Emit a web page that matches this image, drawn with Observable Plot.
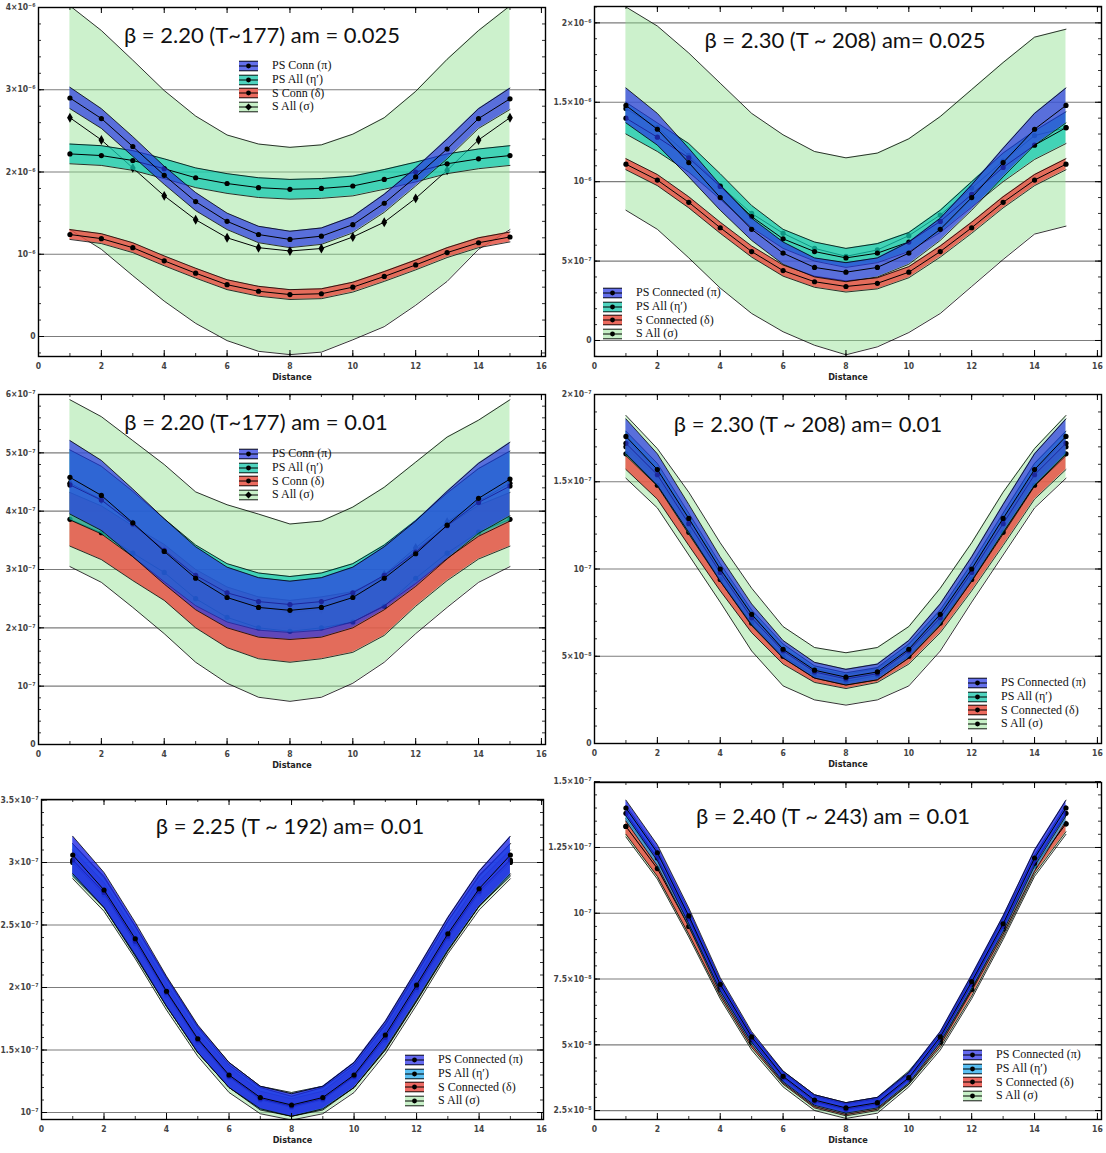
<!DOCTYPE html>
<html><head><meta charset="utf-8">
<script src="https://cdn.jsdelivr.net/npm/d3@7"></script>
<script src="https://cdn.jsdelivr.net/npm/@observablehq/plot@0.6"></script>
<style>
html,body{margin:0;padding:0;background:#fff;}
#root{position:relative;width:1106px;height:1153px;overflow:hidden;}
.panel{position:absolute;}
.title{position:absolute;transform:translateX(-50%);white-space:nowrap;font-family:Lato,"Open Sans",sans-serif;font-size:22px;color:#111;line-height:26px;}
.legend{position:absolute;font-family:"Liberation Serif",serif;font-size:12px;color:#111;}
.legend .row{display:flex;align-items:center;height:13.7px;}
.legend svg{margin-right:14px;flex:none;}
</style></head>
<body><div id="root"></div>
<script>
// ---------------- DATA ----------------
const distance = [1,2,3,4,5,6,7,8,9,10,11,12,13,14,15];
const labelsShort = ["PS Conn (π)","PS All (η′)","S Conn (δ)","S All (σ)"];
const labelsLong = ["PS Connected (π)","PS All (η′)","S Connected (δ)","S All (σ)"];
const panelTitles = [
  "β = 2.20 (T~177) am = 0.025",
  "β = 2.30 (T ~ 208) am= 0.025",
  "β = 2.20 (T~177) am = 0.01",
  "β = 2.30 (T ~ 208) am= 0.01",
  "β = 2.25 (T ~ 192) am= 0.01",
  "β = 2.40 (T ~ 243) am = 0.01"
];
const xTicks = [0,2,4,6,8,10,12,14,16];
const xTickLabels = ["0","2","4","6","8","10","12","14","16"];

// Panel 1 (units of 1e-6)
const p1Unit = 1e-6;
const p1Pi       = [2.90,2.65,2.31,1.96,1.64,1.40,1.24,1.18,1.22,1.36,1.62,1.94,2.28,2.65,2.89];
const p1PiErr    = [0.13,0.12,0.12,0.11,0.11,0.10,0.10,0.10,0.10,0.10,0.11,0.11,0.12,0.12,0.13];
const p1Eta      = [2.22,2.20,2.14,2.04,1.93,1.86,1.81,1.79,1.80,1.83,1.91,2.00,2.10,2.16,2.20];
const p1EtaErr   = [0.12,0.12,0.12,0.12,0.12,0.12,0.12,0.12,0.12,0.12,0.12,0.12,0.12,0.12,0.12];
const p1Delta    = [1.24,1.19,1.08,0.92,0.77,0.63,0.55,0.51,0.52,0.60,0.73,0.87,1.02,1.14,1.21];
const p1DeltaErr = [0.06,0.06,0.06,0.06,0.06,0.06,0.06,0.06,0.06,0.06,0.06,0.06,0.06,0.06,0.06];
const p1Sigma    = [2.66,2.39,2.05,1.71,1.42,1.20,1.08,1.04,1.07,1.21,1.39,1.68,2.02,2.39,2.66];
const p1SigmaErr = [1.36,1.33,1.31,1.28,1.26,1.25,1.26,1.26,1.26,1.25,1.27,1.30,1.35,1.33,1.36];
const p1YTicks = [0,1e-6,2e-6,3e-6,4e-6];
const p1YTickLabels = ["0","10⁻⁶","2×10⁻⁶","3×10⁻⁶","4×10⁻⁶"];

// Panel 2 (units of 1e-6)
const p2Unit = 1e-6;
const p2Pi       = [1.48,1.33,1.12,0.90,0.70,0.55,0.46,0.43,0.46,0.55,0.70,0.90,1.12,1.33,1.48];
const p2PiErr    = [0.11,0.10,0.09,0.08,0.07,0.07,0.06,0.06,0.06,0.07,0.07,0.08,0.09,0.10,0.11];
const p2Eta      = [1.40,1.28,1.15,0.97,0.78,0.64,0.56,0.52,0.55,0.62,0.75,0.92,1.09,1.23,1.34];
const p2EtaErr   = [0.10,0.09,0.09,0.08,0.07,0.06,0.06,0.06,0.06,0.06,0.07,0.08,0.09,0.09,0.10];
const p2Delta    = [1.11,1.01,0.87,0.71,0.56,0.44,0.37,0.34,0.36,0.43,0.56,0.71,0.87,1.01,1.11];
const p2DeltaErr = [0.035,0.035,0.035,0.035,0.035,0.035,0.035,0.035,0.035,0.035,0.035,0.035,0.035,0.035,0.035];
const p2Sigma    = [1.46,1.34,1.165,0.975,0.80,0.675,0.58,0.53,0.57,0.66,0.79,0.96,1.13,1.29,1.34];
const p2SigmaErr = [0.64,0.64,0.645,0.645,0.63,0.62,0.61,0.62,0.61,0.61,0.62,0.62,0.62,0.62,0.62];
const p2YTicks = [0,5e-7,1e-6,1.5e-6,2e-6];
const p2YTickLabels = ["0","5×10⁻⁷","10⁻⁶","1.5×10⁻⁶","2×10⁻⁶"];

// Panel 3 (units of 1e-7)
const p3Unit = 1e-7;
const p3Pi       = [4.58,4.27,3.80,3.31,2.85,2.52,2.35,2.30,2.35,2.52,2.85,3.27,3.76,4.22,4.55];
const p3PiErr    = [0.63,0.60,0.58,0.56,0.54,0.52,0.51,0.50,0.51,0.52,0.54,0.56,0.58,0.60,0.63];
const p3Eta      = [4.45,4.19,3.78,3.33,2.90,2.60,2.45,2.40,2.45,2.60,2.90,3.30,3.75,4.15,4.43];
const p3EtaErr   = [0.60,0.58,0.56,0.54,0.52,0.50,0.49,0.48,0.49,0.50,0.52,0.54,0.56,0.58,0.60];
const p3Delta    = [3.86,3.63,3.28,2.95,2.50,2.18,2.00,1.94,2.00,2.10,2.37,2.85,3.28,3.64,3.86];
const p3DeltaErr = [0.46,0.46,0.47,0.48,0.50,0.52,0.53,0.53,0.53,0.52,0.50,0.48,0.47,0.46,0.46];
const p3Sigma    = [4.48,4.20,3.78,3.35,2.87,2.58,2.38,2.26,2.32,2.56,2.91,3.37,3.81,4.17,4.48];
const p3SigmaErr = [1.43,1.42,1.43,1.45,1.46,1.53,1.57,1.52,1.51,1.51,1.50,1.47,1.46,1.39,1.43];
const p3YTicks = [0,1e-7,2e-7,3e-7,4e-7,5e-7,6e-7];
const p3YTickLabels = ["0","10⁻⁷","2×10⁻⁷","3×10⁻⁷","4×10⁻⁷","5×10⁻⁷","6×10⁻⁷"];

// Panel 4 (units of 1e-7)
const p4Unit = 1e-7;
const p4Pi       = [1.76,1.57,1.29,1.00,0.74,0.54,0.42,0.38,0.41,0.54,0.74,1.00,1.29,1.57,1.76];
const p4PiErr    = [0.10,0.09,0.08,0.07,0.06,0.05,0.045,0.045,0.045,0.05,0.06,0.07,0.08,0.09,0.10];
const p4Eta      = [1.72,1.54,1.26,0.98,0.72,0.53,0.41,0.37,0.40,0.53,0.72,0.98,1.26,1.54,1.72];
const p4EtaErr   = [0.07,0.065,0.06,0.05,0.045,0.04,0.035,0.035,0.035,0.04,0.045,0.05,0.06,0.065,0.07];
const p4Delta    = [1.66,1.48,1.21,0.94,0.69,0.50,0.39,0.355,0.39,0.50,0.69,0.94,1.21,1.48,1.66];
const p4DeltaErr = [0.09,0.08,0.075,0.065,0.055,0.045,0.04,0.04,0.04,0.045,0.055,0.065,0.075,0.08,0.09];
const p4Sigma    = [1.70,1.52,1.26,0.98,0.71,0.50,0.40,0.37,0.40,0.50,0.71,0.98,1.26,1.52,1.70];
const p4SigmaErr = [0.18,0.17,0.18,0.17,0.18,0.17,0.15,0.15,0.15,0.17,0.18,0.17,0.18,0.17,0.18];
const p4YTicks = [0,5e-8,1e-7,1.5e-7,2e-7];
const p4YTickLabels = ["0","5×10⁻⁸","10⁻⁷","1.5×10⁻⁷","2×10⁻⁷"];

// Panel 5 (units of 1e-7)
const p5Unit = 1e-7;
const p5Pi       = [3.06,2.78,2.39,1.97,1.59,1.30,1.12,1.06,1.12,1.30,1.62,2.02,2.43,2.79,3.06];
const p5PiErr    = [0.15,0.14,0.13,0.12,0.11,0.10,0.09,0.09,0.09,0.10,0.11,0.12,0.13,0.14,0.15];
const p5Eta      = [3.02,2.76,2.37,1.96,1.58,1.29,1.11,1.05,1.11,1.29,1.60,2.00,2.41,2.77,3.02];
const p5EtaErr   = [0.13,0.12,0.12,0.11,0.10,0.09,0.09,0.08,0.09,0.09,0.10,0.11,0.12,0.12,0.13];
const p5Delta    = [3.00,2.74,2.35,1.94,1.56,1.28,1.10,1.04,1.10,1.28,1.58,1.98,2.39,2.75,3.00];
const p5DeltaErr = [0.10,0.10,0.09,0.09,0.08,0.08,0.07,0.07,0.07,0.08,0.08,0.09,0.09,0.10,0.10];
const p5Sigma    = [3.01,2.75,2.36,1.95,1.57,1.28,1.10,1.05,1.10,1.28,1.59,1.99,2.40,2.76,3.01];
const p5SigmaErr = [0.14,0.14,0.13,0.13,0.12,0.12,0.11,0.11,0.11,0.12,0.12,0.13,0.13,0.14,0.14];
const p5YTicks = [1e-7,1.5e-7,2e-7,2.5e-7,3e-7,3.5e-7];
const p5YTickLabels = ["10⁻⁷","1.5×10⁻⁷","2×10⁻⁷","2.5×10⁻⁷","3×10⁻⁷","3.5×10⁻⁷"];

// Panel 6 (units of 1e-7)
const p6Unit = 1e-7;
const p6Pi       = [1.40,1.23,0.99,0.73,0.53,0.38,0.29,0.26,0.28,0.375,0.53,0.74,0.96,1.21,1.40];
const p6PiErr    = [0.03,0.03,0.03,0.025,0.02,0.02,0.02,0.02,0.02,0.02,0.02,0.025,0.03,0.03,0.03];
const p6Eta      = [1.38,1.21,0.98,0.72,0.52,0.375,0.285,0.255,0.275,0.37,0.52,0.73,0.95,1.19,1.38];
const p6EtaErr   = [0.03,0.03,0.03,0.025,0.02,0.02,0.02,0.02,0.02,0.02,0.02,0.025,0.03,0.03,0.03];
const p6Delta    = [1.33,1.17,0.95,0.71,0.51,0.37,0.28,0.25,0.27,0.37,0.51,0.71,0.94,1.18,1.34];
const p6DeltaErr = [0.03,0.03,0.03,0.025,0.02,0.02,0.02,0.02,0.02,0.02,0.02,0.025,0.03,0.03,0.03];
const p6Sigma    = [1.33,1.17,0.95,0.71,0.51,0.37,0.28,0.25,0.27,0.37,0.51,0.71,0.94,1.18,1.34];
const p6SigmaErr = [0.04,0.04,0.04,0.035,0.03,0.03,0.03,0.03,0.03,0.03,0.03,0.035,0.04,0.04,0.04];
const p6YTicks = [2.5e-8,5e-8,7.5e-8,1e-7,1.25e-7,1.5e-7];
const p6YTickLabels = ["2.5×10⁻⁸","5×10⁻⁸","7.5×10⁻⁸","10⁻⁷","1.25×10⁻⁷","1.5×10⁻⁷"];

// ---------------- STYLE / LAYOUT ----------------
const colorsA = {
  fill: {pi:"#2837e1", eta:"#14c8af", delta:"#e65546", sigma:"#8ee08e"},
  op:   {pi:0.7, eta:0.75, delta:0.85, sigma:0.45},
  swatch: {pi:"#6470eb", eta:"#4fd4bf", delta:"#ec6b5f", sigma:"#c8f0c8"}
};
const colorsB = {
  fill: {pi:"#1e28e6", eta:"#28aaf0", delta:"#e65546", sigma:"#8ee08e"},
  op:   {pi:0.8, eta:0.75, delta:0.85, sigma:0.45},
  swatch: {pi:"#6469f0", eta:"#5ac0f3", delta:"#ee6a63", sigma:"#c8f0c8"}
};

function series(c, e, unit) {
  return distance.map((x, i) => ({x, y: c[i]*unit, lo: (c[i]-e[i])*unit, hi: (c[i]+e[i])*unit}));
}

const panels = [
  {left:0, top:0, W:553, H:390, ml:38, mr:8, mt:7, mb:34, xmax:16.13, ydom:[-0.243e-6,4e-6],
   ticks:p1YTicks, tickLabels:p1YTickLabels, minor:0.2e-6,
   data:{pi:series(p1Pi,p1PiErr,p1Unit), eta:series(p1Eta,p1EtaErr,p1Unit), delta:series(p1Delta,p1DeltaErr,p1Unit), sigma:series(p1Sigma,p1SigmaErr,p1Unit)},
   colors:colorsA, sigmaSymbol:"diamond", title:panelTitles[0], tx:262, ty:22, labels:labelsShort, lx:239, ly:59},
  {left:553, top:0, W:553, H:390, ml:41, mr:5, mt:6, mb:34, xmax:16.13, ydom:[-0.1008e-6,2.103e-6],
   ticks:p2YTicks, tickLabels:p2YTickLabels, minor:0.1e-6,
   data:{pi:series(p2Pi,p2PiErr,p2Unit), eta:series(p2Eta,p2EtaErr,p2Unit), delta:series(p2Delta,p2DeltaErr,p2Unit), sigma:series(p2Sigma,p2SigmaErr,p2Unit)},
   colors:colorsA, sigmaSymbol:"circle", title:panelTitles[1], tx:845, ty:27, labels:labelsLong, lx:603, ly:286},
  {left:0, top:385, W:553, H:400, ml:38, mr:8, mt:9, mb:41, xmax:16.13, ydom:[0,6e-7],
   ticks:p3YTicks, tickLabels:p3YTickLabels, minor:0.2e-7,
   data:{pi:series(p3Pi,p3PiErr,p3Unit), eta:series(p3Eta,p3EtaErr,p3Unit), delta:series(p3Delta,p3DeltaErr,p3Unit), sigma:series(p3Sigma,p3SigmaErr,p3Unit)},
   colors:colorsA, sigmaSymbol:"diamond", title:panelTitles[2], tx:256, ty:409, labels:labelsShort, lx:239, ly:447},
  {left:553, top:385, W:553, H:400, ml:41, mr:5, mt:9, mb:42, xmax:16.13, ydom:[0,2e-7],
   ticks:p4YTicks, tickLabels:p4YTickLabels, minor:0.1e-7,
   data:{pi:series(p4Pi,p4PiErr,p4Unit), eta:series(p4Eta,p4EtaErr,p4Unit), delta:series(p4Delta,p4DeltaErr,p4Unit), sigma:series(p4Sigma,p4SigmaErr,p4Unit)},
   colors:colorsA, sigmaSymbol:"circle", title:panelTitles[3], tx:808, ty:411, labels:labelsLong, lx:968, ly:676},
  {left:0, top:775, W:553, H:378, ml:41, mr:10, mt:24, mb:34, xmax:16.06, ydom:[0.944e-7,3.504e-7],
   ticks:p5YTicks, tickLabels:p5YTickLabels, minor:0.1e-7,
   data:{pi:series(p5Pi,p5PiErr,p5Unit), eta:series(p5Eta,p5EtaErr,p5Unit), delta:series(p5Delta,p5DeltaErr,p5Unit), sigma:series(p5Sigma,p5SigmaErr,p5Unit)},
   colors:colorsB, sigmaSymbol:"circle", title:panelTitles[4], tx:290, ty:813, labels:labelsLong, lx:405, ly:1053},
  {left:553, top:775, W:553, H:378, ml:41, mr:5, mt:7, mb:34, xmax:16.13, ydom:[0.216e-7,1.497e-7],
   ticks:p6YTicks, tickLabels:p6YTickLabels, minor:0.05e-7,
   data:{pi:series(p6Pi,p6PiErr,p6Unit), eta:series(p6Eta,p6EtaErr,p6Unit), delta:series(p6Delta,p6DeltaErr,p6Unit), sigma:series(p6Sigma,p6SigmaErr,p6Unit)},
   colors:colorsB, sigmaSymbol:"circle", title:panelTitles[5], tx:833, ty:803, labels:labelsLong, lx:963, ly:1048}
];

const order = ["sigma","delta","eta","pi"];
const legendOrder = ["pi","eta","delta","sigma"];
const root = document.getElementById("root");

for (const p of panels) {
  const fw = p.W - p.ml - p.mr, fh = p.H - p.mt - p.mb;
  const [y0, y1] = p.ydom;
  const minorY = d3.range(Math.ceil(y0/p.minor - 1e-9), Math.floor(y1/p.minor + 1e-9) + 1).map(k => k*p.minor);
  const minorX = d3.range(0, 17, 1);
  const marks = [];
  marks.push(Plot.ruleY(p.ticks, {stroke:"#7c7c7c", strokeWidth:1.2}));
  for (const k of order) {
    marks.push(Plot.areaY(p.data[k], {x:"x", y1:"lo", y2:"hi", fill:p.colors.fill[k], fillOpacity:p.colors.op[k], clip:true}));
    marks.push(Plot.lineY(p.data[k], {x:"x", y:"lo", stroke:"#000", strokeWidth:0.8, clip:true}));
    marks.push(Plot.lineY(p.data[k], {x:"x", y:"hi", stroke:"#000", strokeWidth:0.8, clip:true}));
    marks.push(Plot.lineY(p.data[k], {x:"x", y:"y", stroke:"#000", strokeWidth:1, clip:true}));
    const dia = k==="sigma" && p.sigmaSymbol==="diamond";
    marks.push(Plot.dot(p.data[k], {x:"x", y:"y", r: dia ? 3.0 : 2.6, symbol: dia ? "diamond" : "circle", fill:"#000", clip:true}));
  }
  // inward frame ticks
  marks.push(Plot.ruleY(minorY, {insetRight: fw-3, stroke:"#000", strokeWidth:0.8}));
  marks.push(Plot.ruleY(minorY, {insetLeft: fw-3, stroke:"#000", strokeWidth:0.8}));
  marks.push(Plot.ruleY(p.ticks, {insetRight: fw-6, stroke:"#000", strokeWidth:1}));
  marks.push(Plot.ruleY(p.ticks, {insetLeft: fw-6, stroke:"#000", strokeWidth:1}));
  marks.push(Plot.ruleX(minorX, {insetTop: fh-3, stroke:"#000", strokeWidth:0.8}));
  marks.push(Plot.ruleX(minorX, {insetBottom: fh-3, stroke:"#000", strokeWidth:0.8}));
  marks.push(Plot.ruleX(xTicks, {insetTop: fh-6, stroke:"#000", strokeWidth:1}));
  marks.push(Plot.ruleX(xTicks, {insetBottom: fh-6, stroke:"#000", strokeWidth:1}));
  marks.push(Plot.frame({stroke:"#000", strokeWidth:1.4}));
  marks.push(Plot.axisY(p.ticks, {tickSize:0, tickPadding:3, label:null, fontSize:8.5, tickFormat: d => p.tickLabels[p.ticks.indexOf(d)]}));
  marks.push(Plot.axisX(xTicks, {tickSize:0, tickPadding:6, label:null, fontSize:8.5, tickFormat: d => xTickLabels[xTicks.indexOf(d)]}));
  marks.push(Plot.text(["Distance"], {frameAnchor:"bottom", dy:23, fontSize:9, fill:"#222"}));

  const svg = Plot.plot({
    width:p.W, height:p.H, marginLeft:p.ml, marginRight:p.mr, marginTop:p.mt, marginBottom:p.mb,
    x:{domain:[0,p.xmax]}, y:{domain:p.ydom},
    style:{background:"transparent", fontFamily:"'DejaVu Sans Condensed','DejaVu Sans',sans-serif", fontWeight:"bold", color:"#444", overflow:"visible"},
    marks
  });
  const wrap = document.createElement("div");
  wrap.className = "panel";
  wrap.style.left = p.left + "px"; wrap.style.top = p.top + "px";
  wrap.appendChild(svg);
  root.appendChild(wrap);

  const t = document.createElement("div");
  t.className = "title"; t.textContent = p.title;
  t.style.left = p.tx + "px"; t.style.top = p.ty + "px";
  root.appendChild(t);

  const lg = document.createElement("div");
  lg.className = "legend";
  lg.style.left = p.lx + "px"; lg.style.top = p.ly + "px";
  legendOrder.forEach((k, i) => {
    const row = document.createElement("div"); row.className = "row";
    const col = p.colors.swatch[k];
    const marker = (k==="sigma" && p.sigmaSymbol==="diamond")
      ? `<path d="M9.5,2.6 L12.9,6 L9.5,9.4 L6.1,6 Z" fill="#000"/>`
      : `<circle cx="9.5" cy="6" r="2.4" fill="#000"/>`;
    row.innerHTML = `<svg width="19" height="12" viewBox="0 0 19 12"><rect x="0" y="1" width="19" height="10" fill="${col}"/><line x1="0" x2="19" y1="1.2" y2="1.2" stroke="#000" stroke-width="0.9"/><line x1="0" x2="19" y1="10.8" y2="10.8" stroke="#000" stroke-width="0.9"/><line x1="0" x2="19" y1="6" y2="6" stroke="#000" stroke-width="1"/>${marker}</svg>`;
    const s = document.createElement("span"); s.textContent = p.labels[i];
    row.appendChild(s);
    lg.appendChild(row);
  });
  root.appendChild(lg);
}
</script>
</body></html>
